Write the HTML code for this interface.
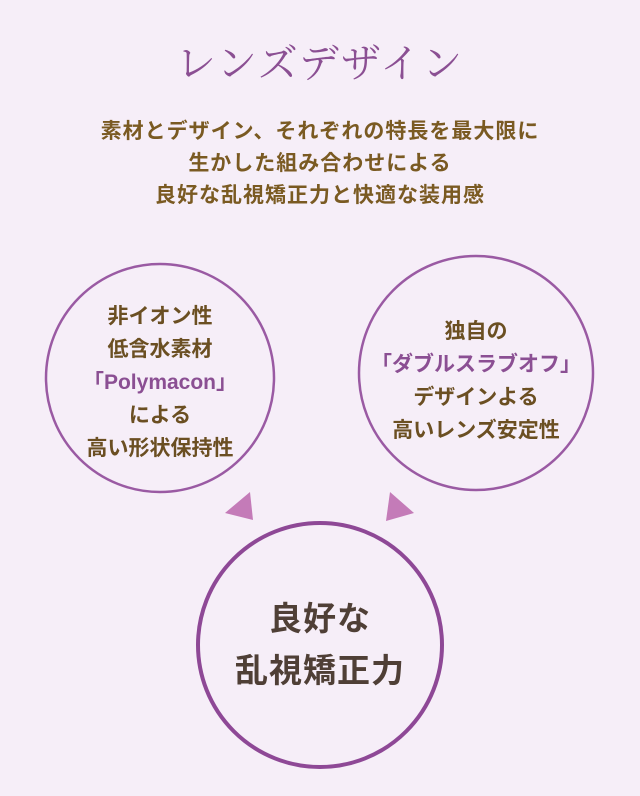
<!DOCTYPE html>
<html><head><meta charset="utf-8"><style>
html,body{margin:0;padding:0}
body{width:640px;height:796px;background:#f6eef8;position:relative;overflow:hidden;font-family:"Liberation Sans","Noto Sans CJK JP",sans-serif}
.t{position:absolute;left:0;width:640px;text-align:center}
</style></head><body>
<div class="t" style="top:32px;font-family:'Noto Serif CJK SC',serif;font-size:40px;color:#8b4f93;letter-spacing:2px">レンズデザイン</div>
<div class="t" style="top:116px;font-size:21px;line-height:32px;color:#7a5a22;letter-spacing:1px;font-weight:bold">素材とデザイン、それぞれの特長を最大限に<br>生かした組み合わせによる<br>良好な乱視矯正力と快適な装用感</div>
<svg width="640" height="796" style="position:absolute;left:0;top:0">
<circle cx="160" cy="378" r="114" fill="none" stroke="#9a5aa3" stroke-width="2.5"/>
<circle cx="476" cy="373" r="117" fill="none" stroke="#9a5aa3" stroke-width="2.5"/>
<circle cx="320" cy="645" r="122" fill="none" stroke="#8e4896" stroke-width="4"/>
<polygon points="250,492 225,513 253,520" fill="#c47bb8"/>
<polygon points="390,492 414,513 386,521" fill="#c47bb8"/>
</svg>
<div class="t" style="left:40px;width:240px;top:300px;font-size:21px;line-height:33px;color:#6b4f22;font-weight:bold">非イオン性<br>低含水素材<br><span style="color:#8b4f93">「Polymacon」</span><br>による<br>高い形状保持性</div>
<div class="t" style="left:356px;width:240px;top:315px;font-size:21px;line-height:33px;color:#6b4f22;font-weight:bold">独自の<br><span style="color:#8b4f93">「ダブルスラブオフ」</span><br>デザインよる<br>高いレンズ安定性</div>
<div class="t" style="top:593px;font-size:33px;line-height:52px;color:#4f3f36;letter-spacing:1px;font-weight:bold">良好な<br>乱視矯正力</div>
</body></html>
